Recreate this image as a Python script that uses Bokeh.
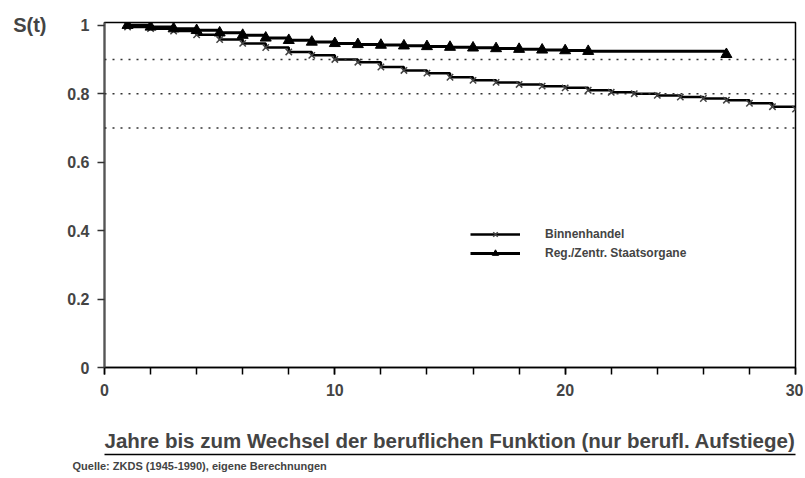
from bokeh.plotting import figure
from bokeh.models import (Range1d, FixedTicker, Span, LinearAxis, Title,
                          Legend, LegendItem, ColumnDataSource)
from bokeh.embed import file_html
from bokeh.resources import INLINE

# ---- data ----
years_b = list(range(1, 31))
binnenhandel = [0.995, 0.99, 0.983, 0.972, 0.958, 0.947, 0.935, 0.922, 0.912, 0.900,
                0.892, 0.878, 0.868, 0.860, 0.848, 0.839, 0.833, 0.827, 0.822, 0.817,
                0.810, 0.804, 0.800, 0.795, 0.790, 0.786, 0.781, 0.772, 0.762, 0.755]
years_s = [1, 2, 3, 4, 5, 6, 7, 8, 9, 10, 11, 12, 13, 14, 15, 16, 17, 18, 19, 20, 21, 27]
staatsorgane = [1.0, 0.995, 0.99, 0.985, 0.978, 0.971, 0.963, 0.956, 0.951, 0.947,
                0.944, 0.942, 0.940, 0.938, 0.936, 0.934, 0.932, 0.930, 0.928, 0.926,
                0.924, 0.915]
series_names = ["Binnenhandel", "Reg./Zentr. Staatsorgane"]
y_ticks = [0, 0.2, 0.4, 0.6, 0.8, 1.0]
y_tick_labels = {0: "0", 0.2: "0.2", 0.4: "0.4", 0.6: "0.6", 0.8: "0.8", 1.0: "1"}
x_ticks = [0, 10, 20, 30]
x_minor = list(range(0, 31, 2))
ref_lines = [0.9, 0.8, 0.7]
x_title = "Jahre bis zum Wechsel der beruflichen Funktion (nur berufl. Aufstiege)"
source_text = "Quelle: ZKDS (1945-1990), eigene Berechnungen"
y_title = "S(t)"

FONT = "Liberation Sans"

p = figure(width=803, height=475, output_backend="svg", toolbar_location=None,
           x_range=Range1d(0, 30), y_range=Range1d(0, 1.008),
           min_border_left=104, min_border_right=8, min_border_top=22, min_border_bottom=108)
p.background_fill_color = "white"
p.border_fill_color = "white"
p.outline_line_color = "black"
p.outline_line_width = 1.5
p.xgrid.visible = False
p.ygrid.visible = False

# axes
xa = p.xaxis[0]
xa.ticker = FixedTicker(ticks=x_ticks, minor_ticks=x_minor)
xa.axis_line_color = "black"
xa.axis_line_width = 1.5
xa.major_tick_out = 7
xa.major_tick_in = 0
xa.minor_tick_out = 7
xa.minor_tick_in = 0
xa.major_tick_line_color = "black"
xa.minor_tick_line_color = "black"
xa.major_tick_line_width = 1.5
xa.minor_tick_line_width = 1.5
xa.major_label_text_font = FONT
xa.major_label_text_font_style = "bold"
xa.major_label_text_font_size = "16px"
xa.major_label_standoff = 9
xa.axis_label = x_title
xa.axis_label_text_font = FONT
xa.axis_label_text_font_style = "bold"
xa.axis_label_text_font_size = "20.5px"
xa.axis_label_standoff = 30

ya = p.yaxis[0]
ya.ticker = FixedTicker(ticks=y_ticks)
ya.minor_tick_line_color = None
ya.axis_line_color = "#555555"
ya.axis_line_width = 2
ya.major_tick_out = 7
ya.major_tick_in = 0
ya.major_tick_line_width = 1.5
ya.major_tick_line_color = "#333333"
ya.major_label_overrides = y_tick_labels
ya.major_label_text_font = FONT
ya.major_label_text_font_style = "bold"
ya.major_label_text_font_size = "16px"
ya.major_label_standoff = 8

# S(t) as a label on an extra left axis, level with y = 1
st_axis = LinearAxis(ticker=FixedTicker(ticks=[1.0]), major_label_overrides={1.0: y_title},
                     axis_line_color=None, major_tick_line_color=None,
                     minor_tick_line_color=None, major_label_standoff=12,
                     major_label_text_font=FONT, major_label_text_font_style="bold",
                     major_label_text_font_size="20px")
p.add_layout(st_axis, "left")

# underline and source
ul = LinearAxis(ticker=FixedTicker(ticks=[]), axis_line_color="black", axis_line_width=1.5,
                major_label_text_font_size="0px", major_tick_line_color=None,
                minor_tick_line_color=None, major_label_standoff=0)
p.add_layout(ul, "below")
p.add_layout(Title(text=source_text, align="left", offset=-32, text_font=FONT,
                   text_font_style="bold", text_font_size="11px", standoff=6), "below")

# dotted reference lines
for v in ref_lines:
    p.add_layout(Span(location=v, dimension="width", line_color="#333333",
                      line_dash="2 6", line_width=1.5))

# series
src_b = ColumnDataSource(dict(t=years_b, s=binnenhandel))
src_s = ColumnDataSource(dict(t=years_s, s=staatsorgane))

lb = p.step("t", "s", source=src_b, mode="after", line_color="black", line_width=2.5)
mb = p.scatter("t", "s", source=src_b, marker="x", size=9, line_color="#444444", line_width=1.5)
ls = p.step("t", "s", source=src_s, mode="after", line_color="black", line_width=3)
ms = p.scatter("t", "s", source=src_s, marker="triangle", size=11, fill_color="black",
               line_color="black")

legend = Legend(items=[LegendItem(label=series_names[0], renderers=[lb, mb]),
                       LegendItem(label=series_names[1], renderers=[ls, ms])],
                location=(366, 106), orientation="vertical",
                glyph_width=50, glyph_height=16, label_standoff=25, spacing=3,
                padding=0, margin=0, border_line_color=None, background_fill_alpha=0,
                label_text_font=FONT, label_text_font_style="bold",
                label_text_font_size="12px")
p.add_layout(legend, "center")

open("out.html", "w").write(file_html(p, INLINE))
